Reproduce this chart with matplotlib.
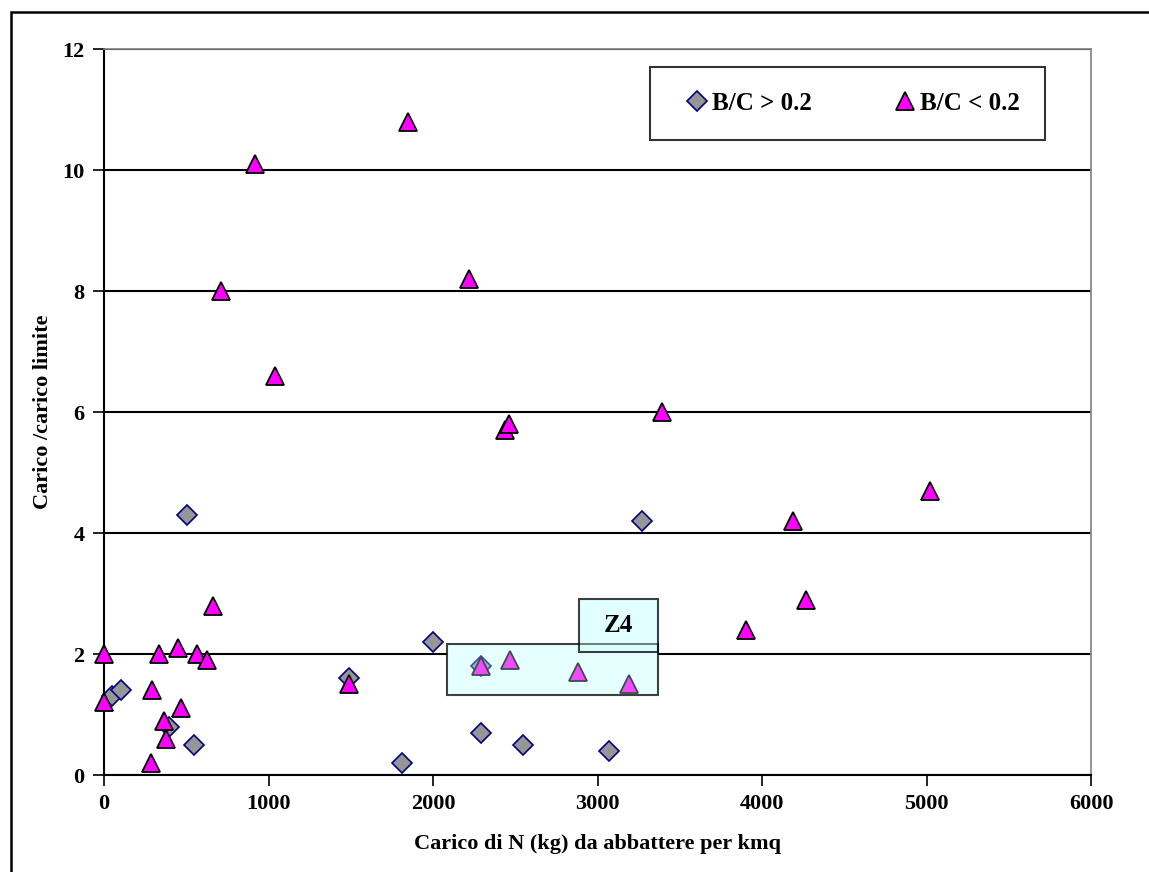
import matplotlib
matplotlib.use("Agg")
import matplotlib.pyplot as plt
from matplotlib.patches import Rectangle

plt.rcParams['font.family'] = ['Liberation Serif', 'DejaVu Serif']
plt.rcParams['font.weight'] = 'bold'

# Data
hi_x = [47, 101, 395, 505, 547, 1490, 1810, 2000, 2290, 2290, 2550, 3070, 3270]
hi_y = [1.3, 1.4, 0.8, 4.3, 0.5, 1.6, 0.2, 2.2, 1.8, 0.7, 0.5, 0.4, 4.2]

lo_x = [0, 0, 284, 294, 334, 365, 375, 452, 466, 563, 624, 660, 710, 920, 1040,
        1490, 1850, 2220, 2290, 2440, 2460, 2470, 2880, 3190, 3390, 3900, 4190, 4270, 5020]
lo_y = [2.0, 1.2, 0.2, 1.4, 2.0, 0.9, 0.6, 2.1, 1.1, 2.0, 1.9, 2.8, 8.0, 10.1, 6.6,
        1.5, 10.8, 8.2, 1.8, 5.7, 5.8, 1.9, 1.7, 1.5, 6.0, 2.4, 4.2, 2.9, 4.7]

labels = ['B/C > 0.2', 'B/C < 0.2']
x_ticks = [0, 1000, 2000, 3000, 4000, 5000, 6000]
y_ticks = [0, 2, 4, 6, 8, 10, 12]

fig = plt.figure(figsize=(11.49, 8.72), dpi=100)
ax = fig.add_axes([104/1149, 1-775/872, 987/1149, 726/872])

# outer frame
fig.patches.append(Rectangle((11/1149, -0.05), 1.2, 1-12/872+0.05, transform=fig.transFigure,
                             fill=False, edgecolor='black', linewidth=1.8))

ax.set_xlim(0, 6000)
ax.set_ylim(0, 12)
ax.set_xticks(x_ticks)
ax.set_yticks(y_ticks)
ax.tick_params(axis='both', direction='out', length=8, width=1.2, labelsize=16, pad=6)
for lab in ax.get_xticklabels() + ax.get_yticklabels():
    lab.set_fontweight('bold')
ax.yaxis.grid(True, color='black', linewidth=1.5, zorder=1)
ax.set_axisbelow(True)
for s in ['top', 'right']:
    ax.spines[s].set_color('#808080')
    ax.spines[s].set_linewidth(1.2)
for s in ['left', 'bottom']:
    ax.spines[s].set_color('black')
    ax.spines[s].set_linewidth(1.5)

# underlay of boxes (opaque, hides gridline)
big = (2084, 1.32, 3365-2084, 2.17-1.32)
z4 = (2888, 2.04, 3365-2888, 2.91-2.04)
ax.add_patch(Rectangle(big[:2], big[2], big[3], facecolor='#F2FFFF', edgecolor='none', zorder=1.5))
ax.add_patch(Rectangle(z4[:2], z4[2], z4[3], facecolor='#E6FFFF', edgecolor='none', zorder=1.5))

ax.plot(hi_x, hi_y, linestyle='none', marker='D', markersize=9.8, markerfacecolor='#969696',
        markeredgecolor='#000080', markeredgewidth=1.2, clip_on=False, zorder=3, label=labels[0])
ax.plot(lo_x, lo_y, linestyle='none', marker='^', markersize=13, markerfacecolor='#FF00FF',
        markeredgecolor='black', markeredgewidth=1.3, clip_on=False, zorder=3.5, label=labels[1])

# translucent overlay boxes
ax.add_patch(Rectangle(big[:2], big[2], big[3], facecolor='#CCFFFF', alpha=0.3, edgecolor='none', zorder=4))
ax.add_patch(Rectangle(big[:2], big[2], big[3], fill=False, edgecolor='black', linewidth=1.5, alpha=0.75, zorder=4.1))
ax.add_patch(Rectangle(z4[:2], z4[2], z4[3], facecolor='#D8FFFF', alpha=0.35, edgecolor='none', zorder=4.2))
ax.add_patch(Rectangle(z4[:2], z4[2], z4[3], fill=False, edgecolor='black', linewidth=1.5, alpha=0.75, zorder=4.3))
ax.text(z4[0] + z4[2]/2, z4[1] + z4[3]/2, 'Z4', ha='center', va='center', fontsize=18,
        fontweight='bold', zorder=5)

ax.set_xlabel('Carico di N (kg) da abbattere per kmq', fontsize=16, fontweight='bold', labelpad=14)
ax.set_ylabel('Carico /carico limite', fontsize=16, fontweight='bold')
ax.yaxis.set_label_coords(-0.052, 0.5)

leg = ax.legend(loc='upper right', bbox_to_anchor=(0.953, 0.975), ncol=2, fontsize=18,
                frameon=True, fancybox=False, edgecolor='black', handletextpad=-0.28,
                columnspacing=2.85, borderpad=1.0, handlelength=1.76, borderaxespad=0)
leg.get_frame().set_linewidth(1.5)
leg.set_zorder(6)
for t in leg.get_texts():
    t.set_fontweight('bold')

fig.savefig('out.png', dpi=100)
